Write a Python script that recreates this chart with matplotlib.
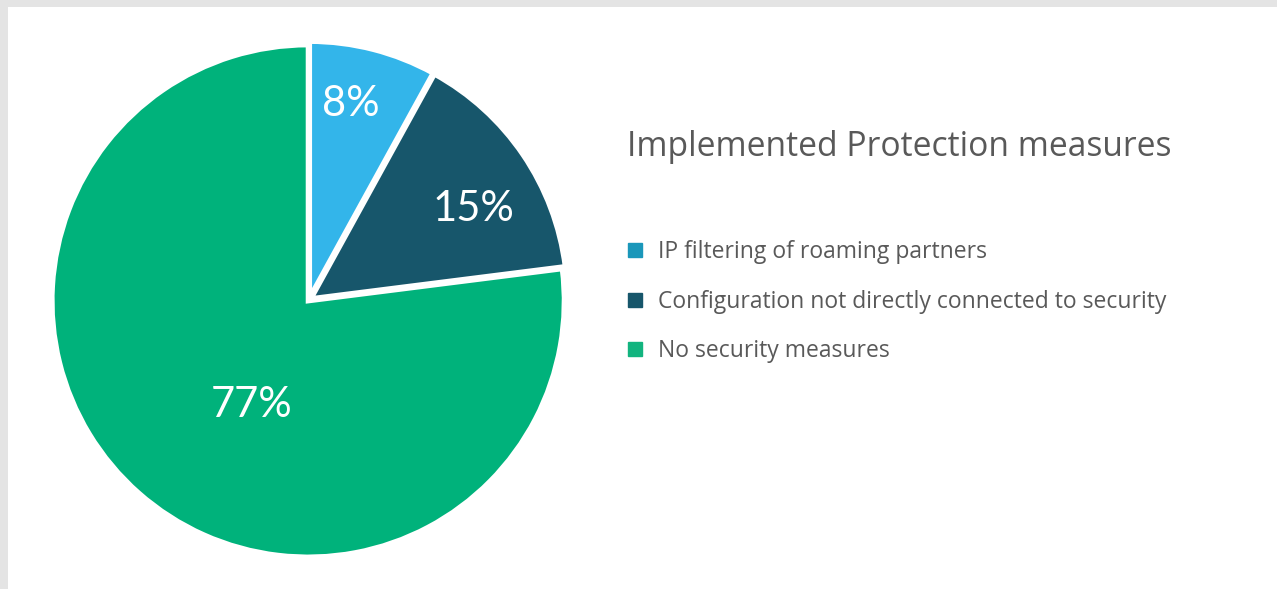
import matplotlib
matplotlib.use("Agg")
import matplotlib.pyplot as plt
from matplotlib.lines import Line2D
from matplotlib.patches import Rectangle

categories = ["IP filtering of roaming partners",
              "Configuration not directly connected to security",
              "No security measures"]
values = [8, 15, 77]
pct_labels = ["8%", "15%", "77%"]
title = "Implemented Protection measures"

slice_colors = ["#33B5EA", "#17566B", "#00B27B"]
legend_colors = ["#1A97BA", "#17566B", "#12B47F"]
label_pos = [(0.165, 0.765), (0.643, 0.357), (-0.225, -0.41)]

W, H = 1277, 589
fig = plt.figure(figsize=(W / 100, H / 100), dpi=100)
fig.patch.set_facecolor("white")
# gray frame (top and left)
fig.patches.append(Rectangle((0, 1 - 7 / H), 1, 7 / H, transform=fig.transFigure,
                             facecolor="#E4E4E4", edgecolor="none", zorder=0))
fig.patches.append(Rectangle((0, 0), 8 / W, 1, transform=fig.transFigure,
                             facecolor="#E4E4E4", edgecolor="none", zorder=0))

cx, cy, r = 309, 589 - 300, 256
ax = fig.add_axes([(cx - r) / W, (cy - r) / H, 2 * r / W, 2 * r / H])
wedges, _ = ax.pie(values, colors=slice_colors, startangle=90, counterclock=False,
                   explode=[0.01, 0.01, 0.005], radius=1.0,
                   wedgeprops=dict(edgecolor="white", linewidth=3.5))
ax.set_xlim(-1, 1)
ax.set_ylim(-1, 1)
ax.set_aspect("equal")
ax.axis("off")
for w in wedges:
    w.set_clip_on(False)

for txt, (x, y) in zip(pct_labels, label_pos):
    ax.text(x, y, txt, ha="center", va="center", color="white",
            fontsize=30, family=["Lato", "DejaVu Sans"])

fig.text(627 / W, 1 - 147 / H, title, ha="left", va="center",
         fontsize=24.2, color="#595959", family=["Open Sans", "DejaVu Sans"])

handles = [Line2D([0], [0], marker="s", linestyle="none", markersize=10,
                  markerfacecolor=c, markeredgecolor=c) for c in legend_colors]
leg = fig.legend(handles, categories, loc="upper left",
                 bbox_to_anchor=(617 / W, 1 - 232 / H), frameon=False,
                 handlelength=0.9, handletextpad=0.55, labelspacing=1.12,
                 borderaxespad=0, borderpad=0.35,
                 prop=dict(family="Open Sans", size=16.5))
for t in leg.get_texts():
    t.set_color("#595959")

fig.savefig("out.png", dpi=100, facecolor="white")
